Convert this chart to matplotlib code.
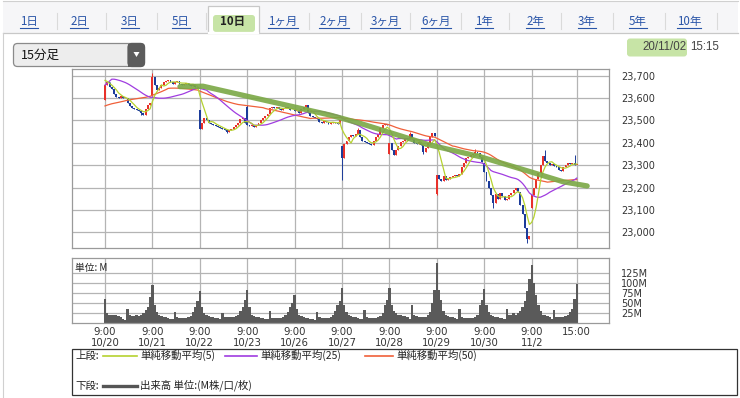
import numpy as np
import pandas as pd
import matplotlib
matplotlib.use('Agg')
import matplotlib.pyplot as plt
from matplotlib.patches import Rectangle, FancyBboxPatch, Polygon

W, H = 740, 398
BARS = 21  # 15-minute bars per session day: 9:00-11:15, 12:30-14:45, 15:00

days = ['10/20', '10/21', '10/22', '10/23', '10/26', '10/27', '10/28', '10/29', '10/30', '11/2']

# bars before the visible window (10/15 tail, 10/16, 10/19) so the averages start warmed up
warmup_close = [23480, 23490, 23500, 23505, 23500, 23495, 23505,
                23480, 23470, 23465, 23460, 23470, 23475, 23470, 23465, 23460, 23455, 23460,
                23465, 23460, 23455, 23450, 23445, 23450, 23455, 23450, 23440, 23410,
                23620, 23650, 23670, 23680, 23690, 23700, 23705, 23710, 23715, 23710, 23705,
                23710, 23705, 23700, 23700, 23695, 23690, 23695, 23690, 23680, 23670]

day_open = [23590, 23610, 23545, 23560, 23550, 23385, 23350, 23170, 23310, 23110]

close_1020 = [23660, 23670, 23650, 23640, 23620, 23605, 23600, 23610, 23600, 23600, 23580,
              23565, 23555, 23550, 23545, 23540, 23535, 23525, 23550, 23570, 23580]
close_1021 = [23695, 23660, 23635, 23645, 23660, 23670, 23675, 23680, 23670, 23665, 23670,
              23675, 23665, 23660, 23665, 23668, 23660, 23655, 23660, 23650, 23640]
close_1022 = [23460, 23490, 23510, 23500, 23490, 23485, 23480, 23475, 23470, 23465, 23460,
              23455, 23448, 23455, 23462, 23470, 23478, 23490, 23505, 23510, 23490]
close_1023 = [23480, 23475, 23480, 23470, 23478, 23490, 23500, 23510, 23520, 23530, 23555,
              23560, 23555, 23558, 23552, 23548, 23555, 23560, 23555, 23545, 23545]
close_1026 = [23540, 23545, 23535, 23550, 23560, 23570, 23535, 23520, 23515, 23510, 23505,
              23495, 23490, 23498, 23492, 23485, 23490, 23495, 23490, 23485, 23500]
close_1027 = [23330, 23395, 23410, 23425, 23435, 23430, 23440, 23458, 23425, 23410, 23405,
              23400, 23395, 23390, 23410, 23425, 23440, 23465, 23480, 23485, 23480]
close_1028 = [23400, 23370, 23345, 23370, 23385, 23405, 23410, 23420, 23415, 23440, 23415,
              23400, 23395, 23405, 23390, 23360, 23375, 23400, 23425, 23445, 23430]
close_1029 = [23255, 23240, 23230, 23250, 23235, 23240, 23245, 23250, 23255, 23250, 23260,
              23290, 23310, 23330, 23335, 23345, 23350, 23360, 23355, 23335, 23315]
close_1030 = [23270, 23230, 23200, 23165, 23130, 23170, 23150, 23175, 23160, 23145, 23150,
              23165, 23175, 23190, 23200, 23180, 23120, 23080, 23020, 22970, 22985]
close_1102 = [23165, 23200, 23240, 23265, 23300, 23340, 23320, 23310, 23300, 23305, 23295,
              23290, 23280, 23275, 23290, 23300, 23310, 23305, 23310, 23300, 23300]

# long wicks that stand out (day, bar): price
wick_low = {(0, 16): 23524, (2, 12): 23442, (5, 0): 23233, (6, 15): 23350,
            (7, 0): 23166, (8, 4): 23110, (8, 19): 22952}
wick_high = {(1, 0): 23710, (3, 0): 23568, (5, 7): 23464, (6, 9): 23449,
             (7, 17): 23374, (9, 6): 23367, (9, 19): 23345}

# volume, millions
vol_1020 = [62, 25, 20, 20, 22, 20, 18, 15, 12, 8, 35, 20, 18, 18, 20, 18, 22, 25, 33, 42, 67]
vol_1021 = [97, 45, 28, 22, 18, 17, 15, 14, 12, 10, 28, 15, 14, 14, 13, 14, 15, 18, 28, 40, 55]
vol_1022 = [81, 40, 25, 20, 18, 16, 15, 14, 13, 10, 25, 16, 15, 15, 15, 16, 18, 22, 30, 40, 58]
vol_1023 = [83, 40, 22, 18, 16, 15, 14, 13, 12, 10, 32, 14, 13, 13, 14, 14, 16, 20, 28, 42, 50]
vol_1026 = [71, 35, 22, 18, 15, 14, 13, 12, 10, 8, 28, 15, 14, 13, 14, 14, 16, 20, 30, 45, 55]
vol_1027 = [89, 46, 29, 22, 18, 16, 15, 14, 12, 10, 33, 15, 14, 13, 14, 14, 15, 18, 25, 46, 58]
vol_1028 = [89, 45, 30, 25, 22, 20, 18, 18, 15, 12, 45, 20, 18, 17, 16, 16, 17, 20, 28, 50, 83]
vol_1029 = [152, 83, 58, 30, 22, 18, 16, 15, 13, 10, 36, 15, 14, 13, 13, 13, 14, 16, 22, 46, 58]
vol_1030 = [86, 46, 28, 22, 18, 16, 15, 14, 13, 10, 37, 20, 22, 25, 22, 27, 32, 42, 55, 80, 112]
vol_1102 = [146, 100, 70, 45, 30, 22, 20, 18, 15, 12, 33, 16, 15, 15, 16, 18, 22, 28, 37, 60, 99]

# hand-drawn trend line (bar index, price)
trend_x = [33.2, 43.4, 99.7, 113.0, 144.0, 166.1, 188.3, 202.9, 213.6]
trend_y = [23651, 23653, 23524, 23487, 23390, 23338, 23271, 23226, 23207]

tabs = ['1日', '2日', '3日', '5日', '10日', '1ヶ月', '2ヶ月', '3ヶ月', '6ヶ月',
        '1年', '2年', '3年', '5年', '10年']

RED = '#e8312a'
BLUE = '#1c3c9a'
C5, C25, C50 = '#b5d230', '#a03ce0', '#f0603a'
GRID = '#b4b4b4'
JP = ['Noto Sans CJK JP', 'DejaVu Sans']

plt.rcParams['font.family'] = ['DejaVu Sans', 'Noto Sans CJK JP']

closes = [close_1020, close_1021, close_1022, close_1023, close_1026,
          close_1027, close_1028, close_1029, close_1030, close_1102]
vols = [vol_1020, vol_1021, vol_1022, vol_1023, vol_1026,
        vol_1027, vol_1028, vol_1029, vol_1030, vol_1102]

o, c, hi, lo = [], [], [], []
prev = warmup_close[-1]
for d, day in enumerate(closes):
    for b, cl in enumerate(day):
        op = day_open[d] if b == 0 else prev
        o.append(op)
        c.append(cl)
        hi.append(wick_high.get((d, b), max(op, cl)))
        lo.append(wick_low.get((d, b), min(op, cl)))
        prev = cl
o, c, hi, lo = map(np.array, (o, c, hi, lo))
vol = np.concatenate(vols)
n = len(c)
x = np.arange(n)

full = pd.Series(list(warmup_close) + list(c))
sma5 = full.rolling(5).mean().values[-n:]
sma25 = full.rolling(25).mean().values[-n:]
sma50 = full.rolling(50).mean().values[-n:]

fig = plt.figure(figsize=(W / 100, H / 100), dpi=100)
fig.patch.set_facecolor('white')


def fx(px):
    return px / W


def fy(py):
    return 1 - py / H


# ---- page decoration (pixel coords) ----
ui = fig.add_axes([0, 0, 1, 1])
ui.set_xlim(0, W)
ui.set_ylim(H, 0)
ui.axis('off')
ui.set_zorder(0)

ui.add_patch(Rectangle((3, 1), 735, 31.5, facecolor='#f6f6f8', edgecolor='none'))
ui.plot([3, 738], [1, 1], color='#d0d0d0', lw=0.8)
ui.plot([3, 208], [32.5, 32.5], color='#c8c8c8', lw=0.9)
ui.plot([259, 738], [32.5, 32.5], color='#c8c8c8', lw=0.9)
ui.plot([3, 3], [32.5, H], color='#d0d0d0', lw=0.8)
ui.add_patch(Rectangle((208, 6), 51, 27, facecolor='white', edgecolor='#c8c8c8', lw=0.9))
ui.plot([208.6, 258.4], [32.8, 32.8], color='white', lw=1.6)
ui.add_patch(FancyBboxPatch((213, 15), 42, 17, boxstyle='round,pad=0,rounding_size=3',
                            facecolor='#c7e4a6', edgecolor='none'))

tab_x = [29, 79, 130, 181, 233, 283, 334, 385, 436, 484, 535, 587, 638, 689]
for sx in [57, 106, 157, 206, 309, 361, 410, 461, 509, 561, 613, 665, 717]:
    ui.plot([sx, sx], [13, 29], color='#dadada', lw=0.8)

tab_texts = []
for t, tx in zip(tabs, tab_x):
    sel = t == '10日'
    tt = ui.text(tx, 21.5, t, ha='center', va='center', fontsize=8.3, family=JP,
                 color='#222222' if sel else '#2a55a8', fontweight='bold' if sel else 'normal')
    tab_texts.append((tt, sel))

# dropdown
ui.add_patch(FancyBboxPatch((13.5, 43.5), 131, 23, boxstyle='round,pad=0,rounding_size=4',
                            facecolor='#ededed', edgecolor='#8a8a8a', lw=0.9))
ui.add_patch(FancyBboxPatch((128, 43.5), 16.5, 23, boxstyle='round,pad=0,rounding_size=4',
                            facecolor='#5c5c5c', edgecolor='#5c5c5c', lw=0.9))
ui.add_patch(Rectangle((128, 43.5), 5, 23, facecolor='#5c5c5c', edgecolor='none'))
ui.add_patch(Polygon([[133.5, 52], [139.5, 52], [136.5, 57]], closed=True,
                     facecolor='white', edgecolor='none'))
ui.text(21, 55.5, '15分足', ha='left', va='center', fontsize=9, family=JP, color='#111111')

# timestamp
ui.add_patch(FancyBboxPatch((627, 38.5), 60, 18, boxstyle='round,pad=0,rounding_size=3',
                            facecolor='#c7e4a6', edgecolor='none'))
ui.text(686.5, 47.5, '20/11/02', ha='right', va='center', fontsize=8.3, color='#444444',
        family=['Liberation Sans', 'DejaVu Sans'])
ui.text(690, 47.5, '15:15', ha='left', va='center', fontsize=8.3, color='#444444',
        family=['Liberation Sans', 'DejaVu Sans'])

# legend box
ui.add_patch(Rectangle((72, 348.5), 665, 46.5, facecolor='white', edgecolor='#333333', lw=0.9))
ui.text(75, 355.5, '上段:', ha='left', va='center', fontsize=7.5, family=JP, color='#222222')
ui.text(75, 385.5, '下段:', ha='left', va='center', fontsize=7.5, family=JP, color='#222222')
for (x0, x1), col, lab in [((103, 137), C5, '単純移動平均(5)'),
                           ((225, 257), C25, '単純移動平均(25)'),
                           ((365, 393), C50, '単純移動平均(50)')]:
    ui.plot([x0, x1], [355.5, 355.5], color=col, lw=1.2)
    ui.text(x1 + 3.5, 355.5, lab, ha='left', va='center', fontsize=7.5, family=JP, color='#222222')
ui.plot([103, 137], [385.5, 385.5], color='#555555', lw=2.4)
ui.text(140, 385.5, '出来高 単位:(M株/口/枚)', ha='left', va='center', fontsize=7.5,
        family=JP, color='#222222')

# ---- price panel ----
xlim = (-14.75, 223.4)
day_ticks = [d * BARS for d in range(len(days))] + [n - 1]

ax = fig.add_axes([fx(71.7), fy(247.7), fx(609.3 - 71.7), (247.7 - 69.3) / H])
ax.set_zorder(1)
ax.set_xlim(*xlim)
ax.set_ylim(22931, 23728.6)
ax.set_xticks(day_ticks)
ax.set_yticks(np.arange(23000, 23701, 100))
ax.grid(True, color=GRID, lw=0.9)
ax.set_axisbelow(True)
ax.tick_params(axis='x', length=0, labelbottom=False)
ax.tick_params(axis='y', length=0, labelleft=False, labelright=True, pad=8.5,
               labelsize=7, labelcolor='#333333')
ax.set_yticklabels([f'{v:,}' for v in range(23000, 23701, 100)])
for s in ax.spines.values():
    s.set_color('#9a9a9a')
    s.set_linewidth(0.9)

up = c >= o
cols = np.where(up, RED, BLUE)
ax.vlines(x, lo, hi, colors=cols, lw=0.7, zorder=2)
body_lo = np.minimum(o, c)
body_h = np.maximum(np.abs(c - o), 3)
ax.bar(x, body_h, bottom=body_lo, width=0.85, color=cols, lw=0, zorder=2)

ax.plot(x, sma50, color=C50, lw=0.9, zorder=3)
ax.plot(x, sma25, color=C25, lw=0.9, zorder=3)
ax.plot(x, sma5, color=C5, lw=0.9, zorder=3)
ax.plot(trend_x, trend_y, color='#7aa845', lw=3.8, alpha=0.9, solid_capstyle='round', zorder=4)

# ---- volume panel ----
av = fig.add_axes([fx(71.7), fy(323.3), fx(609.3 - 71.7), (323.3 - 258.3) / H])
av.set_zorder(1)
av.set_xlim(*xlim)
av.set_ylim(0, 162.5)
av.set_xticks(day_ticks)
av.set_xticklabels([f'9:00\n{d}' for d in days] + ['15:00'], fontsize=7.3, color='#333333',
                   linespacing=1.05)
av.set_yticks([25, 50, 75, 100, 125])
av.set_yticklabels(['25M', '50M', '75M', '100M', '125M'])
av.grid(True, color=GRID, lw=0.9)
av.set_axisbelow(True)
av.tick_params(axis='x', length=0, pad=3)
av.tick_params(axis='y', length=0, labelleft=False, labelright=True, pad=8.5,
               labelsize=7, labelcolor='#333333')
for lab in av.get_yticklabels():
    lab.set_horizontalalignment('left')
for s in av.spines.values():
    s.set_color('#9a9a9a')
    s.set_linewidth(0.9)
av.bar(x, vol, width=1.0, color='#5a5a5a', lw=0, zorder=2)
av.text(0.006, 0.93, '単位: M', transform=av.transAxes, ha='left', va='top',
        fontsize=7, family=JP, color='#222222', zorder=3)

# underline the link tabs
fig.canvas.draw()
rend = fig.canvas.get_renderer()
inv = ui.transData.inverted()
for tt, sel in tab_texts:
    if sel:
        continue
    bb = tt.get_window_extent(rend)
    (x0, _), (x1, _) = inv.transform([[bb.x0, bb.y0], [bb.x1, bb.y1]])
    ui.plot([x0, x1], [27.5, 27.5], color='#2a55a8', lw=0.8)

fig.savefig('out.png', dpi=100, facecolor='white')
